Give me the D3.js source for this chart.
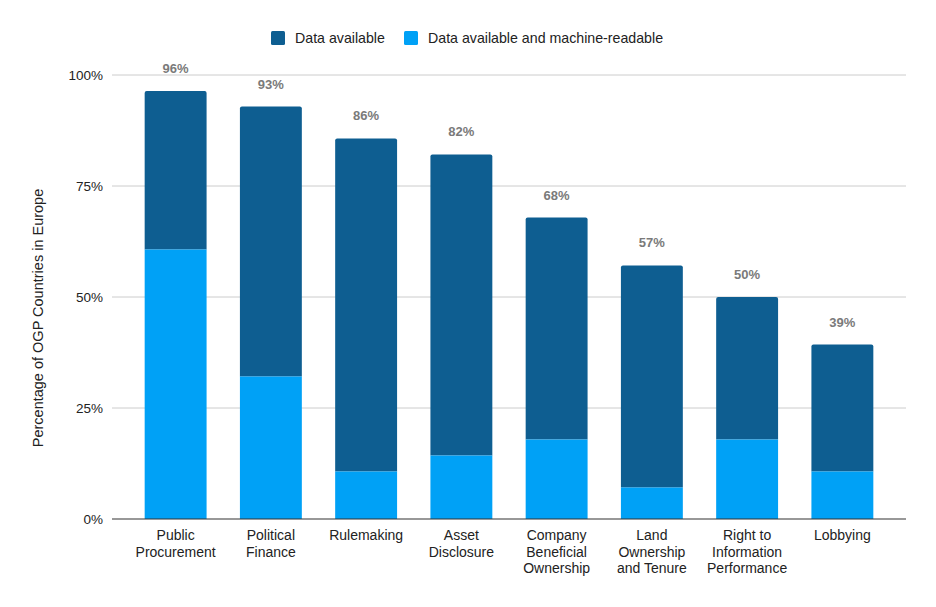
<!DOCTYPE html>
<html>
<head>
<meta charset="utf-8">
<script src="https://cdn.jsdelivr.net/npm/d3@7"></script>
<style>
  body { margin: 0; background: #fff; }
  svg { display: block; font-family: "Liberation Sans", Arial, sans-serif; }
</style>
</head>
<body>
<svg id="chart" width="936" height="607"></svg>
<script>
const categories = ["Public Procurement", "Political Finance", "Rulemaking", "Asset Disclosure",
  "Company Beneficial Ownership", "Land Ownership and Tenure", "Right to Information Performance", "Lobbying"];
const categoryLines = [["Public", "Procurement"], ["Political", "Finance"], ["Rulemaking"], ["Asset", "Disclosure"],
  ["Company", "Beneficial", "Ownership"], ["Land", "Ownership", "and Tenure"], ["Right to", "Information", "Performance"], ["Lobbying"]];
// percentages of OGP countries in Europe
const dataAvailable = [96.4, 92.9, 85.7, 82.1, 67.9, 57.1, 50.0, 39.3];
const machineReadable = [60.7, 32.1, 10.7, 14.3, 17.9, 7.1, 17.9, 10.7];
const totalLabels = ["96%", "93%", "86%", "82%", "68%", "57%", "50%", "39%"];
const yTicks = [0, 25, 50, 75, 100];
const seriesNames = ["Data available", "Data available and machine-readable"];
const colors = { dark: "#0e5e91", light: "#00a1f6" };

const svg = d3.select("#chart");
const mLeft = 112, mRight = 906, mTop = 75, mBottom = 519;

const x = d3.scaleBand().domain(categories).range([mLeft, mRight]).paddingInner(0.35).paddingOuter(0.343);
const y = d3.scaleLinear().domain([0, 100]).range([mBottom, mTop]);

// gridlines
svg.append("g").selectAll("line").data(yTicks.filter(d => d > 0)).join("line")
  .attr("x1", mLeft).attr("x2", mRight)
  .attr("y1", d => y(d)).attr("y2", d => y(d))
  .attr("stroke", "#cccccc").attr("stroke-width", 1);

// y axis labels
const yAxis = d3.axisLeft(y).tickValues(yTicks).tickFormat(d => d + "%").tickSize(0).tickPadding(9);
const yg = svg.append("g").attr("transform", `translate(${mLeft},0)`).call(yAxis);
yg.select(".domain").remove();
yg.selectAll("text").attr("font-size", 13.5).attr("fill", "#222").attr("font-family", "Liberation Sans, Arial, sans-serif");

// stacked bars
const rows = categories.map((c, i) => ({ cat: c, light: machineReadable[i], total: dataAvailable[i] }));
const g = svg.append("g");
g.selectAll("path.dark").data(rows).join("path")
  .attr("class", "dark")
  .attr("fill", colors.dark)
  .attr("d", d => {
    const x0 = x(d.cat), w = x.bandwidth(), yt = y(d.total), yb = y(d.light), r = 2;
    return `M${x0},${yb}V${yt + r}Q${x0},${yt} ${x0 + r},${yt}H${x0 + w - r}Q${x0 + w},${yt} ${x0 + w},${yt + r}V${yb}Z`;
  });
g.selectAll("rect.light").data(rows).join("rect")
  .attr("class", "light")
  .attr("fill", colors.light)
  .attr("x", d => x(d.cat)).attr("width", x.bandwidth())
  .attr("y", d => y(d.light)).attr("height", d => y(0) - y(d.light));

// total labels
g.selectAll("text.total").data(rows).join("text")
  .attr("class", "total")
  .attr("x", d => x(d.cat) + x.bandwidth() / 2)
  .attr("y", d => y(d.total) - 18)
  .attr("text-anchor", "middle")
  .attr("font-size", 13).attr("font-weight", "bold").attr("fill", "#7a7a7a")
  .text((d, i) => totalLabels[i]);

// baseline
svg.append("line").attr("x1", mLeft).attr("x2", mRight).attr("y1", y(0)).attr("y2", y(0))
  .attr("stroke", "#333").attr("stroke-width", 1.2);

// x category labels
const xl = svg.append("g");
categories.forEach((c, i) => {
  const t = xl.append("text")
    .attr("x", x(c) + x.bandwidth() / 2).attr("y", 540)
    .attr("text-anchor", "middle").attr("font-size", 14).attr("fill", "#222");
  categoryLines[i].forEach((line, j) => {
    t.append("tspan").attr("x", x(c) + x.bandwidth() / 2).attr("dy", j === 0 ? 0 : 16.7).text(line);
  });
});

// y axis title
svg.append("text")
  .attr("transform", `translate(43,318) rotate(-90)`)
  .attr("text-anchor", "middle").attr("font-size", 14.5).attr("fill", "#222")
  .text("Percentage of OGP Countries in Europe");

// legend
const legend = svg.append("g");
const legendItems = [
  { name: seriesNames[0], color: colors.dark, x: 271 },
  { name: seriesNames[1], color: colors.light, x: 404 }
];
legendItems.forEach(it => {
  legend.append("rect").attr("x", it.x).attr("y", 31).attr("width", 14).attr("height", 14).attr("rx", 1.5).attr("fill", it.color);
  legend.append("text").attr("x", it.x + 24).attr("y", 43).attr("font-size", 14.2).attr("fill", "#222").text(it.name);
});
</script>
</body>
</html>
